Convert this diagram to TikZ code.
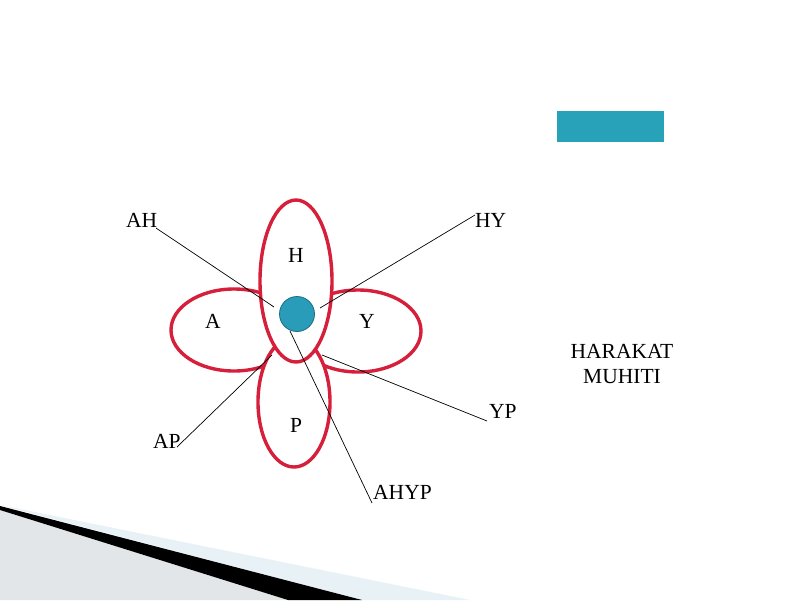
\documentclass[tikz,border=0pt]{standalone}
\usepackage{fontspec}
\setmainfont{Liberation Serif}
\begin{document}
\begin{tikzpicture}[x=1pt,y=-1pt,
  petal/.style={draw=petalred,line width=3.4pt,fill=white},
  lbl/.style={inner sep=0pt,font=\fontsize{21.5}{25}\selectfont},
  leader/.style={draw=black,line width=0.7pt}]
\definecolor{petalred}{HTML}{D61F3B}
\definecolor{teal1}{HTML}{27A2B8}
\definecolor{nucleus}{HTML}{289CB8}
\definecolor{greyband}{HTML}{E2E6E8}
\definecolor{blueband}{HTML}{E8F1F5}
\useasboundingbox (0,0) rectangle (800,600);
\fill[white] (0,0) rectangle (800,600);
% bottom decoration
\fill[blueband] (0,505) -- (470,600) -- (362,600) -- cycle;
\fill[greyband] (0,510) -- (288,600) -- (0,600) -- cycle;
\fill[black] (0,506) -- (362,600) -- (288,600) -- (0,510) -- cycle;
% teal bar
\fill[teal1] (557,111) rectangle (664,142);
% petals
\draw[petal] (234,330) ellipse [x radius=63, y radius=41];
\draw[petal] (358,331) ellipse [x radius=63, y radius=41];
\draw[petal] (294,402) ellipse [x radius=36, y radius=65];
\draw[petal] (296,281) ellipse [x radius=36, y radius=81];
% nucleus
\node[circle,minimum size=35pt,inner sep=0pt,fill=nucleus,draw=nucleus!70!black,line width=0.8pt] (nuc) at (297,314) {};
% labels in petals
\node[lbl] (H) at (296,255) {H};
\node[lbl] (A) at (213,321) {A};
\node[lbl] (Y) at (367,321) {Y};
\node[lbl] (P) at (296,425) {P};
% outer labels
\node[lbl,anchor=base west] (AH) at (126,227) {AH};
\node[lbl,anchor=base west] (HY) at (475,227) {HY};
\node[lbl,anchor=base west] (YP) at (489,418) {YP};
\node[lbl,anchor=base west] (AP) at (153,448) {AP};
\node[lbl,anchor=base west] (AHYP) at (373,499) {AHYP};
\node[lbl,anchor=base] (HM1) at (622,358) {HARAKAT};
\node[lbl,anchor=base] (HM2) at (622,383) {MUHITI};
% leader end points
\coordinate (cAH) at (274,307);
\coordinate (cHY) at (320,308);
\coordinate (cAP) at (272,355);
\coordinate (cYP) at (322,355);
\coordinate (cAHYP) at (290,331);
\coordinate (sAH) at (156,228);
\coordinate (sHY) at (475,215);
\coordinate (sYP) at (487,421);
\coordinate (sAP) at (177,447);
\coordinate (sAHYP) at (372,503);
\draw[leader] (sAH) -- (cAH);
\draw[leader] (sHY) -- (cHY);
\draw[leader] (sYP) -- (cYP);
\draw[leader] (sAP) -- (cAP);
\draw[leader] (sAHYP) -- (cAHYP);
\end{tikzpicture}
\end{document}
